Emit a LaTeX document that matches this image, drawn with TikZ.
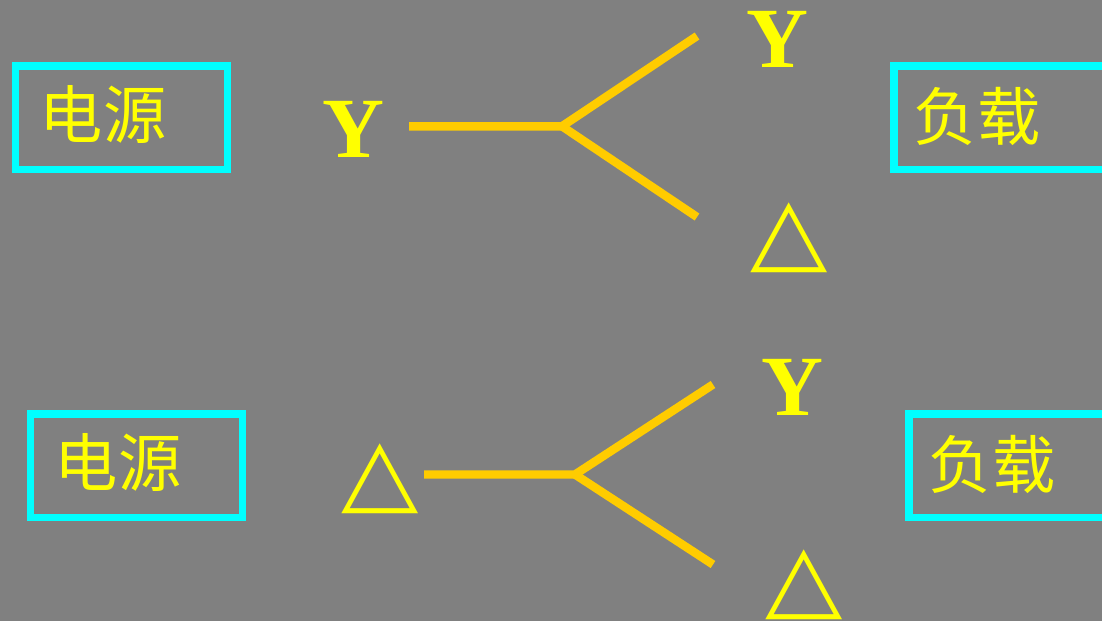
\documentclass[tikz,border=0pt]{standalone}
\usepackage{fontspec}
\setmainfont{Liberation Serif}
\newfontfamily\cjkfont{Noto Sans CJK SC}
\newfontfamily\symfont{DejaVu Sans}
\usetikzlibrary{positioning}

\definecolor{bggray}{HTML}{808080}
\definecolor{boxcyan}{HTML}{00FFFF}
\definecolor{textyellow}{HTML}{FFFF00}
\definecolor{linegold}{HTML}{FFCC00}

\newcommand{\deltasym}{\scalebox{1.1}[1]{△}}

\begin{document}
\begin{tikzpicture}[
    x=0.025cm, y=-0.025cm,
    every node/.style={text=textyellow, inner sep=0pt},
    box/.style={rectangle, draw=boxcyan, line width=5pt, minimum height=2.5875cm},
    boxlabel/.style={font=\cjkfont\fontsize{45}{45}\selectfont},
    letter/.style={font=\bfseries\fontsize{61}{61}\selectfont},
    tri/.style={font=\symfont\fontsize{65}{65}\selectfont},
    branch/.style={draw=linegold, line width=6pt}
]

% background
\fill[bggray] (0,0) rectangle (1102,621);
\useasboundingbox (0,0) rectangle (1102,621);

% ============ Y SOURCE (TOP) ============
\node[box, minimum width=5.275cm] (srcA) at (121.5,117.75) {};
\node[boxlabel] (srcAtext) at (103,115) {电源};
\node[letter] (inA) at (353.5,129.5) {Y};

\coordinate (stemA) at (409,126.3);
\coordinate (forkA) at (562,126.3);
\coordinate (upA) at (697,36);
\coordinate (downA) at (697,217);
\draw[branch] (stemA) -- (forkA) -- (upA);
\draw[branch] (forkA) -- (downA);

\node[letter] (outAy) at (777,39.5) {Y};
\node[tri] (outAd) at (788.7,237.5) {\deltasym};

\node[box, minimum width=5.525cm] (loadA) at (1004.5,117.75) {};
\node[boxlabel] (loadAtext) at (977,116) {负载};

% ============ DELTA SOURCE (BOTTOM) ============
\node[box, minimum width=5.275cm] (srcB) at (136.5,465.75) {};
\node[boxlabel] (srcBtext) at (118,463) {电源};
\node[tri] (inB) at (380.3,479) {\deltasym};

\coordinate (stemB) at (424,474.5);
\coordinate (forkB) at (575,474.5);
\coordinate (upB) at (713,384.5);
\coordinate (downB) at (713,564.5);
\draw[branch] (stemB) -- (forkB) -- (upB);
\draw[branch] (forkB) -- (downB);

\node[letter] (outBy) at (792,387) {Y};
\node[tri] (outBd) at (803.7,585) {\deltasym};

\node[box, minimum width=5.525cm] (loadB) at (1019.5,465.75) {};
\node[boxlabel] (loadBtext) at (992,464) {负载};

\end{tikzpicture}
\end{document}
